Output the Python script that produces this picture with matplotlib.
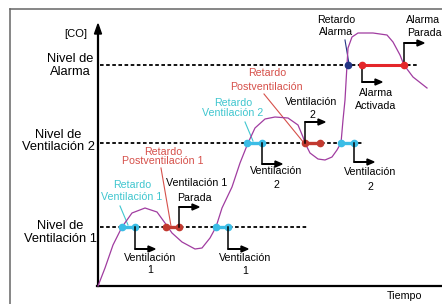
import matplotlib.pyplot as plt

# curva de [CO] en el tiempo (unidades del esquema: t desde el eje, co desde la base)
curve_t = [0, 7, 15, 24, 34, 47, 59, 67, 74, 84, 97, 104, 112, 118, 124, 134, 142,
           150, 157, 167, 177, 190, 200, 205, 207, 212, 220, 227, 234, 239, 243,
           245, 247, 249, 250, 254, 260, 275, 289, 295, 302, 306, 315, 329]
curve_co = [0, 18, 41, 59, 73, 78, 74, 63, 53, 44, 37, 38, 48, 59, 78, 99, 123,
            143, 158, 167, 169, 168, 161, 149, 143, 133, 127, 126, 129, 136, 143,
            166, 186, 221, 238, 249, 253, 253, 251, 244, 231, 221, 209, 198]

level_vent1 = 59
level_vent2 = 143
level_alarm = 221
level_ends = [209, 266, 320]

# retardos (pares de puntos sobre cada nivel)
cyan_pairs = [(24, 37, level_vent1), (118, 130, level_vent1),
              (149, 164, level_vent2), (243, 256, level_vent2)]
red_pairs = [(68, 81, level_vent1), (207, 222, level_vent2)]
alarm_delay_t = 250
alarm_on_t = 264
alarm_off_t = 306

# flechas de estado: (t, nivel, sube/baja)
step_arrows = [(37, level_vent1, -22), (81, level_vent1, 20), (130, level_vent1, -22),
               (164, level_vent2, -21), (207, level_vent2, 21), (256, level_vent2, -19),
               (alarm_on_t, level_alarm, -17), (alarm_off_t, level_alarm, 22)]

PURPLE = '#a03ca0'
CYAN = '#3bbde6'
CYAN_TXT = '#3fc6cf'
RED = '#c23a30'
RED_TXT = '#d6504a'
BIG = 9.3
SMALL = 7.7

plt.rcParams['font.family'] = ['Liberation Sans', 'DejaVu Sans']

fig = plt.figure(figsize=(4.42, 3.04), dpi=100)
ax = fig.add_axes([0, 0, 1, 1])
ax.set_xlim(-98, 344)
ax.set_ylim(-18, 286)
ax.axis('off')

# marco gris
ax.plot([-88, 344], [277, 277], color='#666666', lw=1.1, clip_on=False)
ax.plot([-88, -88], [277, -18], color='#666666', lw=1.1, clip_on=False)

# ejes
ax.plot([-1, 344], [0, 0], color='k', lw=1.6)
ax.plot([0, 0], [0, 256], color='k', lw=1.6)
ax.arrow(0, 250, 0, 12, head_width=7, head_length=10, length_includes_head=True,
         fc='k', ec='k', width=0.5)

# niveles
for lev, end in zip([level_vent1, level_vent2, level_alarm], level_ends):
    ax.plot([2, end], [lev, lev], color='k', lw=1.3, ls=(0, (2, 1.4)), zorder=2)

# curva
ax.plot(curve_t, curve_co, color=PURPLE, lw=0.9, zorder=3)

# retardos
for a, b, lev in cyan_pairs:
    ax.plot([a, b], [lev, lev], color=CYAN, lw=2.4, marker='o', ms=4.5, zorder=4)
for a, b, lev in red_pairs:
    ax.plot([a, b], [lev, lev], color=RED, lw=2.4, marker='o', ms=4.5, zorder=4)
ax.plot([alarm_on_t, alarm_off_t], [level_alarm, level_alarm], color='#e4262a', lw=2.2, zorder=4)
ax.plot([alarm_on_t, alarm_off_t], [level_alarm, level_alarm], 'o', color='#e4262a', ms=4.5, zorder=5)
ax.plot([alarm_delay_t], [level_alarm], 'o', color='#243584', ms=4.5, zorder=5)

# flechas
for t, lev, dy in step_arrows:
    ax.plot([t, t], [lev, lev + dy], color='k', lw=1.1, zorder=4)
    ax.arrow(t, lev + dy, 20, 0, head_width=6, head_length=7, length_includes_head=True,
             fc='k', ec='k', width=0.6, zorder=4)

# líneas indicadoras
ax.plot([22, 30], [80, 61], color=CYAN_TXT, lw=0.8)
ax.plot([63, 73], [118, 60], color=RED_TXT, lw=0.8)
ax.plot([147, 155], [164, 145], color=CYAN_TXT, lw=0.8)
ax.plot([166, 206], [192, 143], color=RED_TXT, lw=0.8)
ax.plot([247, 251], [246, 222], color='#243584', lw=0.8)

texts = [
    ('[CO]', -22, 252, 'k', 8, 'center'),
    ('Nivel de', -28, 227, 'k', BIG, 'center'),
    ('Alarma', -28, 214, 'k', BIG, 'center'),
    ('Nivel de', -40, 151, 'k', BIG, 'center'),
    ('Ventilación 2', -40, 139, 'k', BIG, 'center'),
    ('Nivel de', -38, 60, 'k', BIG, 'center'),
    ('Ventilación 1', -38, 47, 'k', BIG, 'center'),
    ('Tiempo', 307, -10, 'k', SMALL, 'center'),
    ('Retardo', 34, 101, CYAN_TXT, SMALL, 'center'),
    ('Ventilación 1', 34, 89, CYAN_TXT, SMALL, 'center'),
    ('Retardo', 65, 134, RED_TXT, SMALL, 'center'),
    ('Postventilación 1', 65, 125, RED_TXT, SMALL, 'center'),
    ('Ventilación 1', 99, 103, 'k', SMALL, 'center'),
    ('Parada', 96, 88, 'k', SMALL, 'center'),
    ('Ventilación', 52, 28, 'k', SMALL, 'center'),
    ('1', 52, 16, 'k', SMALL, 'center'),
    ('Ventilación', 147, 28, 'k', SMALL, 'center'),
    ('1', 147, 15, 'k', SMALL, 'center'),
    ('Retardo', 135, 183, CYAN_TXT, SMALL, 'center'),
    ('Ventilación 2', 135, 173, CYAN_TXT, SMALL, 'center'),
    ('Ventilación', 178, 115, 'k', SMALL, 'center'),
    ('2', 178, 101, 'k', SMALL, 'center'),
    ('Ventilación', 213, 184, 'k', SMALL, 'center'),
    ('2', 214, 171, 'k', SMALL, 'center'),
    ('Ventilación', 272, 114, 'k', SMALL, 'center'),
    ('2', 272, 99, 'k', SMALL, 'center'),
    ('Retardo', 169, 213, RED_TXT, SMALL, 'center'),
    ('Postventilación', 168, 199, RED_TXT, SMALL, 'center'),
    ('Retardo', 238, 266, 'k', SMALL, 'center'),
    ('Alarma', 238, 254, 'k', SMALL, 'center'),
    ('Alarma', 278, 193, 'k', SMALL, 'center'),
    ('Activada', 278, 180, 'k', SMALL, 'center'),
    ('Alarma', 308, 266, 'k', SMALL, 'left'),
    ('Parada', 309, 253, 'k', SMALL, 'left'),
]
for s, x, y, c, fs, ha in texts:
    ax.text(x, y, s, color=c, fontsize=fs, ha=ha, va='center', zorder=6)

fig.savefig('out.png', dpi=100)
